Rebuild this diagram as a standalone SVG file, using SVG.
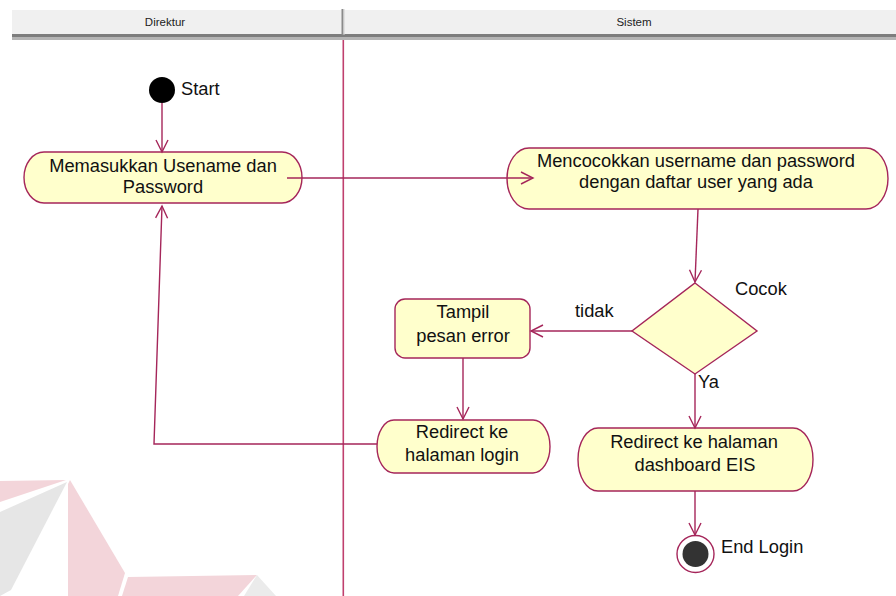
<svg xmlns="http://www.w3.org/2000/svg" width="896" height="596" viewBox="0 0 896 596">
<defs>
<style>
.t{font-family:"Liberation Sans",Arial,sans-serif;font-size:18.3px;fill:#111}
.h{font-family:"Liberation Sans",Arial,sans-serif;font-size:11.5px;fill:#222}
.act{fill:#ffffcc;stroke:#a5265a;stroke-width:1.4}
.c{fill:none;stroke:#a5265a;stroke-width:1.4}
</style>
<marker id="arr" markerUnits="userSpaceOnUse" markerWidth="16" markerHeight="16" refX="13" refY="7" orient="auto">
<path d="M1,1 L13,7 L1,13" fill="none" stroke="#a5265a" stroke-width="1.4"/>
</marker>
</defs>
<rect width="896" height="596" fill="#ffffff"/>
<g id="watermark">
<polygon points="0,481 66,480 0,502" fill="#f3d5da"/>
<polygon points="0,512 67,482 11,590 0,596" fill="#e6e6e6"/>
<polygon points="68,484 70,480 125,573 118,596 68,596" fill="#f3d5da"/>
<polygon points="128,577 257,575 238,596 122,596" fill="#f3d5da"/>
<polygon points="257,575 276,596 244,596" fill="#ebebeb"/>
</g>
<g id="header">
<rect x="12" y="10" width="884" height="25" fill="#f0f0f0"/>
<rect x="12" y="34" width="884" height="3" fill="#7d7d7d"/>
<rect x="12" y="37" width="884" height="3" fill="#b4b4b4"/>
<rect x="341.5" y="9" width="2" height="26" fill="#8a8a8a"/>
<rect x="343.5" y="9" width="1" height="26" fill="#cfcfcf"/>
<text class="h" x="165" y="26" text-anchor="middle">Direktur</text>
<text class="h" x="634" y="26" text-anchor="middle">Sistem</text>
</g>
<line x1="343.3" y1="40" x2="343.3" y2="596" stroke="#c0406e" stroke-width="1.6"/>
<g id="start">
<circle cx="162" cy="90" r="13" fill="#000"/>
<text class="t" x="181" y="95">Start</text>
</g>
<g id="act1">
<rect class="act" x="24" y="152" width="278" height="51" rx="20" ry="25.5"/>
<text class="t" x="163" y="172" text-anchor="middle">Memasukkan Usename dan</text>
<text class="t" x="163" y="193" text-anchor="middle">Password</text>
</g>
<g id="act2">
<rect class="act" x="507" y="148" width="381" height="61" rx="22" ry="30.5"/>
<text class="t" x="696" y="167" text-anchor="middle">Mencocokkan username dan password</text>
<text class="t" x="696" y="188" text-anchor="middle">dengan daftar user yang ada</text>
</g>
<g id="decision">
<polygon class="act" points="695,283 757,331 695,374 632,331"/>
<text class="t" x="735" y="295">Cocok</text>
</g>
<g id="tampil">
<rect class="act" x="395" y="299" width="135" height="59" rx="10"/>
<text class="t" x="463" y="318" text-anchor="middle">Tampil</text>
<text class="t" x="463" y="342" text-anchor="middle">pesan error</text>
</g>
<g id="redirectLogin">
<rect class="act" x="377" y="420" width="173" height="53" rx="17" ry="26.5"/>
<text class="t" x="462" y="438" text-anchor="middle">Redirect ke</text>
<text class="t" x="462" y="461" text-anchor="middle">halaman login</text>
</g>
<g id="redirectDashboard">
<rect class="act" x="578" y="428" width="235" height="63" rx="20" ry="31.5"/>
<text class="t" x="694" y="448" text-anchor="middle">Redirect ke halaman</text>
<text class="t" x="695" y="471" text-anchor="middle">dashboard EIS</text>
</g>
<g id="end">
<circle cx="695.5" cy="554" r="18.5" fill="#fff" stroke="#a5265a" stroke-width="1.4"/>
<circle cx="695.5" cy="554" r="13" fill="#333"/>
<text class="t" x="721" y="553">End Login</text>
</g>
<g id="connectors">
<line class="c" x1="162" y1="103" x2="162" y2="152" marker-end="url(#arr)"/>
<line class="c" x1="287" y1="178" x2="533" y2="178" marker-end="url(#arr)"/>
<line class="c" x1="698" y1="209" x2="695" y2="282" marker-end="url(#arr)"/>
<line class="c" x1="632" y1="331" x2="531" y2="331" marker-end="url(#arr)"/>
<line class="c" x1="463" y1="358" x2="463" y2="419" marker-end="url(#arr)"/>
<polyline class="c" points="377,444 154,444 162,206" marker-end="url(#arr)"/>
<line class="c" x1="695" y1="374" x2="695" y2="428" marker-end="url(#arr)"/>
<line class="c" x1="695" y1="491" x2="695" y2="535" marker-end="url(#arr)"/>
<text class="t" x="575" y="317">tidak</text>
<text class="t" x="698" y="388">Ya</text>
</g>
</svg>
